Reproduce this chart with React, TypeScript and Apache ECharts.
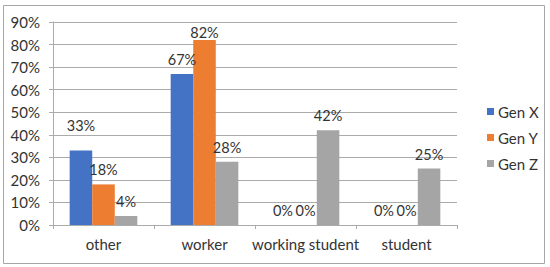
import React, { useEffect, useRef } from "react";
import * as echarts from "echarts";

const categories = ["other", "worker", "working student", "student"];
const seriesNames = ["Gen X", "Gen Y", "Gen Z"];
const genX = [33, 67, 0, 0];
const genY = [18, 82, 0, 0];
const genZ = [4, 28, 42, 25];
const yTicks = { min: 0, max: 90, interval: 10 };
const colors = ["#4472C4", "#ED7D31", "#A5A5A5"];
// label distance tweaks observed in the reference (series index, data index, distance)
const labelDistances: [number, number, number][] = [
  [0, 0, 18],
  [1, 1, 0],
];

const FONT = "Lato";
const TEXT = "#333333";
const FS = 15;

export default function App() {
  const ref = useRef<HTMLDivElement>(null);
  useEffect(() => {
    document.body.style.margin = "0";
    if (!ref.current) return;
    const chart = echarts.init(ref.current, undefined, { renderer: "svg" });
    const all = [genX, genY, genZ];
    const series = all.map((vals, si) => ({
      name: seriesNames[si],
      type: "bar",
      barGap: "0%",
      barCategoryGap: "33%",
      itemStyle: { color: colors[si] },
      label: {
        show: true,
        position: "top",
        distance: 7,
        formatter: "{c}%",
        color: TEXT,
        fontFamily: FONT,
        fontSize: 14.5,
      },
      data: vals.map((v, di) => {
        const d = labelDistances.find((t) => t[0] === si && t[1] === di);
        return d ? { value: v, label: { distance: d[2] } } : v;
      }),
    }));
    chart.setOption({
      animation: false,
      textStyle: { fontFamily: FONT },
      grid: { left: 53, right: 93, top: 22, bottom: 42 },
      legend: {
        orient: "vertical",
        left: 482,
        top: 99,
        itemWidth: 7,
        itemHeight: 7,
        itemGap: 11,
        icon: "rect",
        textStyle: { color: TEXT, fontFamily: FONT, fontSize: FS, padding: [0, 0, 0, -1] },
        data: seriesNames,
      },
      xAxis: {
        type: "category",
        data: categories,
        axisLine: { lineStyle: { color: "#ABABAB" } },
        axisTick: { show: true, length: 4, lineStyle: { color: "#ABABAB" } },
        axisLabel: { color: TEXT, fontFamily: FONT, fontSize: FS, margin: 11, interval: 0 },
      },
      yAxis: {
        type: "value",
        min: yTicks.min,
        max: yTicks.max,
        interval: yTicks.interval,
        axisLine: { show: true, lineStyle: { color: "#ABABAB" } },
        axisTick: { show: true, length: 4, lineStyle: { color: "#ABABAB" } },
        splitLine: { lineStyle: { color: "#ABABAB" } },
        axisLabel: { color: TEXT, fontFamily: FONT, fontSize: FS, margin: 13, formatter: "{value}%" },
      },
      graphic: [
        {
          type: "rect",
          shape: { x: 3.5, y: 5.5, width: 541, height: 258 },
          style: { fill: "none", stroke: "#A6A6A6", lineWidth: 1 },
          silent: true,
        },
      ],
      series,
    });
    return () => chart.dispose();
  }, []);
  return <div ref={ref} style={{ width: 550, height: 267, background: "#fff" }} />;
}
